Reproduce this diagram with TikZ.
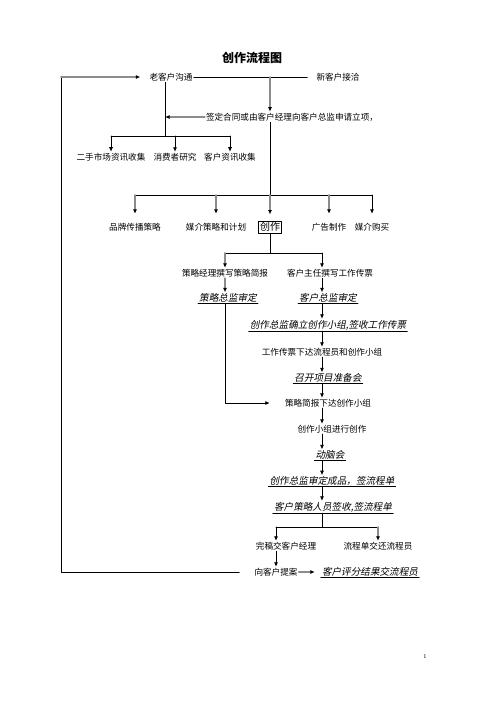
\documentclass[tikz,border=0pt]{standalone}
\usepackage{fontspec}
\newfontfamily\cjk{Noto Sans CJK SC}
\newfontfamily\cjkit{Noto Sans CJK SC}[FakeSlant=0.2]
\usetikzlibrary{arrows.meta}

\begin{document}
\begin{tikzpicture}[
  x=1pt, y=-1pt,
  line cap=round, line join=round,
  every node/.style={font=\cjk\fontsize{8.6}{10}\selectfont, inner sep=1pt},
  conn/.style={draw=black, line width=0.8pt},
  arr/.style={conn, -{Latex[length=4.5pt,width=4pt]}},
  garr/.style={draw=black!45, line width=1.6pt, -{Latex[length=4.5pt,width=4pt,color=black]}},
  ul/.style={font=\cjkit\fontsize{9.6}{11}\selectfont,
    append after command={(\tikzlastnode.south west) edge[conn] (\tikzlastnode.south east)}},
  boxed/.style={draw, line width=0.8pt, inner sep=1.5pt, font=\cjk\fontsize{10}{12}\selectfont},
]
\useasboundingbox (0,0) rectangle (496,702);
% title and start
\node[font=\cjk\bfseries\fontsize{12}{14}\selectfont] (title) at (252,58) {创作流程图};
\node (old) at (171,77) {老客户沟通};
\node (new) at (338,77) {新客户接洽};
\node (sign) at (292,117) {签定合同或由客户经理向客户总监申请立项，};
\node (m1) at (111,157) {二手市场资讯收集};
\node (m2) at (175,157) {消费者研究};
\node (m3) at (230,157) {客户资讯收集};
% five branches
\node (b1) at (135,227) {品牌传播策略};
\node (b2) at (216,227) {媒介策略和计划};
\node[boxed] (b3) at (270,227) {创作};
\node (b4) at (329,227) {广告制作};
\node (b5) at (372,227) {媒介购买};
% creative column
\node (s1) at (225,273) {策略经理撰写策略简报};
\node (s2) at (330,273) {客户主任撰写工作传票};
\node[ul] (r1) at (228,298) {策略总监审定};
\node[ul] (r2) at (328,298) {客户总监审定};
\node[ul] (t1) at (328,325) {创作总监确立创作小组,签收工作传票};
\node (t2) at (322,352) {工作传票下达流程员和创作小组};
\node[ul] (t3) at (328,378) {召开项目准备会};
\node (t4) at (328,403) {策略简报下达创作小组};
\node (t5) at (332,429) {创作小组进行创作};
\node[ul] (t6) at (330,455) {动脑会};
\node[ul] (t7) at (332,481) {创作总监审定成品，签流程单};
\node[ul] (t8) at (333,507) {客户策略人员签收,签流程单};
\node (u1) at (286,546) {完稿交客户经理};
\node (u2) at (378,546) {流程单交还流程员};
\node (v1) at (276,572) {向客户提案};
\node[ul] (v2) at (370,572) {客户评分结果交流程员};
\node[font=\rmfamily\fontsize{6}{7}\selectfont] (page) at (425,656) {1};

\coordinate (loop) at (61,77);
\coordinate (j0) at (270,77);
\coordinate (j1) at (165,136);
\coordinate (j2) at (270,195);
\coordinate (j3) at (270,253);
\coordinate (col) at (322,0);
\coordinate (j4) at (322,527);

% connectors
\draw[conn] (old.east) -- ([xshift=-8pt]new.west);
\draw[garr] (j0) -- (j0 |- sign.north);
\draw[garr] (sign.west) -- (sign.west -| j1);
\draw[conn] (old.south -| j1) -- (j1);
\draw[conn] (j1 -| m1) -- (j1 -| m3);
\foreach \n in {m1,m2,m3}
  \draw[arr] (j1 -| \n) -- (\n.north);
\draw[conn] (sign.south -| j2) -- (j2);
\draw[conn] (j2 -| b1) -- (j2 -| b5);
\foreach \n in {b1,b2,b4}
  \draw[garr, shorten >=8pt] (j2 -| \n) -- (\n.north);
\draw[garr, shorten >=6pt] (j2 -| b3) -- (b3.north);
\draw[arr, shorten >=8pt] (j2 -| b5) -- (b5.north);
\draw[conn] (b3.south) -- (j3);
\draw[conn] (j3 -| s1) -- (j3 -| col);
\draw[garr] (j3 -| s1) -- (s1.north);
\draw[arr] (j3 -| col) -- (s2.north -| col);
\draw[garr] (s1.south) -- (r1.north -| s1);
\draw[arr] (s2.south -| col) -- (r2.north -| col);
\foreach \a/\b in {r2/t1, t1/t2, t2/t3, t3/t4, t4/t5, t5/t6, t6/t7, t7/t8}
  \draw[arr] (\a.south -| col) -- (\b.north -| col);
\draw[arr] (r1.south -| s1) |- ([xshift=-14pt]t4.west);
\draw[conn] (t8.south -| col) -- (j4);
\draw[conn] (j4 -| v1) -- (j4 -| u2);
\draw[arr] (j4 -| v1) -- (u1.north -| v1);
\draw[garr] (j4 -| u2) -- (u2.north);
\draw[arr] (u1.south -| v1) -- (v1.north);
\draw[garr, shorten >=6pt] (v1.east) -- (v2.west);
\draw[conn] ([xshift=-14pt]v1.west) -| (loop);
\draw[garr, shorten >=8pt] (loop) -- (old.west);
\end{tikzpicture}
\end{document}
